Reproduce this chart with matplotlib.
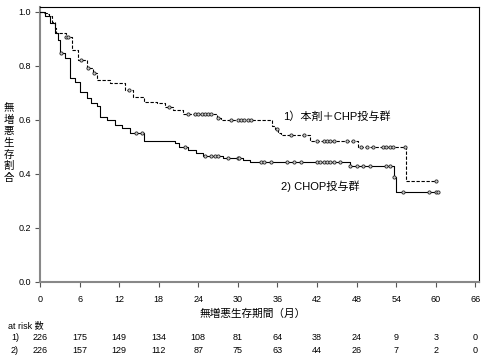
import numpy as np
import matplotlib
matplotlib.use("Agg")
import matplotlib.pyplot as plt

plt.rcParams['font.family'] = ['Liberation Sans', 'Noto Sans CJK JP', 'DejaVu Sans']

# group 1: 本剤+CHP (dashed), step times / survival after each step
t1 = [0, 0.5, 1.0, 1.4, 1.8, 2.2, 2.5, 4.0, 4.8, 5.8, 7.1, 8.1, 8.6, 10.6, 12.9, 14.1,
      15.7, 17.7, 18.9, 20.2, 21.7, 26.8, 27.5, 35.1, 35.6, 36.1, 36.6, 40.9, 48.2, 55.5]
s1 = [1.0, 0.996, 0.991, 0.982, 0.96, 0.94, 0.92, 0.907, 0.858, 0.821, 0.79, 0.772, 0.747,
      0.735, 0.71, 0.685, 0.667, 0.661, 0.648, 0.636, 0.62, 0.605, 0.597, 0.577, 0.565,
      0.552, 0.543, 0.52, 0.50, 0.373]
end1 = 60.0
cens1 = [4.0, 4.3, 6.2, 7.3, 8.2, 13.5, 19.5, 22.5, 23.5, 24.0, 24.5, 25.0, 25.5, 26.0,
         27.0, 29.0, 30.0, 30.5, 31.0, 31.5, 32.0, 36.0, 38.0, 40.0, 42.0, 43.0, 43.5,
         44.0, 44.5, 46.5, 47.5, 48.6, 49.5, 50.5, 52.0, 52.5, 53.0, 53.5, 55.3, 60.0]

# group 2: CHOP (solid)
t2 = [0, 0.75, 1.5, 2.3, 2.8, 3.0, 3.8, 4.5, 5.3, 6.1, 7.1, 7.8, 8.6, 9.1, 10.1, 11.4,
      12.4, 13.6, 15.7, 20.5, 21.0, 22.5, 23.7, 24.7, 27.8, 30.8, 31.8, 47.0, 53.7, 54.0]
s2 = [1.0, 0.985, 0.957, 0.92, 0.895, 0.846, 0.827, 0.753, 0.741, 0.704, 0.679, 0.661,
      0.651, 0.611, 0.60, 0.58, 0.568, 0.55, 0.522, 0.512, 0.50, 0.488, 0.475, 0.467,
      0.457, 0.45, 0.444, 0.43, 0.387, 0.333]
end2 = 60.3
cens2 = [3.2, 14.5, 15.5, 22.0, 25.0, 26.0, 26.5, 27.0, 28.5, 30.0, 30.2, 33.5, 34.0,
         35.0, 37.5, 38.5, 39.5, 42.0, 42.5, 43.0, 43.5, 44.0, 44.5, 45.5, 47.0, 48.0,
         49.0, 50.0, 52.5, 53.0, 53.7, 55.0, 59.0, 60.0, 60.3]

months = [0, 6, 12, 18, 24, 30, 36, 42, 48, 54, 60, 66]
risk1 = [226, 175, 149, 134, 108, 81, 64, 38, 24, 9, 3, 0]
risk2 = [226, 157, 129, 112, 87, 75, 63, 44, 26, 7, 2, 0]

label1 = "1）本剤＋CHP投与群"
label2 = "2) CHOP投与群"
ylabel = "無増悪生存割合"
xlabel = "無増悪生存期間（月）"


def step_value(t, s, x):
    idx = np.searchsorted(t, x, side='right') - 1
    return np.array(s)[idx]


fig = plt.figure(figsize=(4.86, 3.6), dpi=100)
ax = fig.add_axes([40 / 486, 1 - 281.7 / 360, 439.3 / 486, 274.7 / 360])

for t, s, end, cens, ls in [(t1, s1, end1, cens1, (0, (3, 1.5))), (t2, s2, end2, cens2, '-')]:
    tx = list(t) + [end]
    sx = list(s) + [s[-1]]
    ax.step(tx, sx, where='post', color='black', lw=0.8, linestyle=ls, zorder=3)
    cy = step_value(t, s, cens)
    ax.plot(cens, cy, 'o', ms=2.3, mfc='#cccccc', mec='#222222', mew=0.6, zorder=4)

ax.set_xlim(0, 66.6)
ax.set_ylim(0, 1.017)
ax.set_xticks(months)
ax.set_yticks(np.arange(0, 1.01, 0.2))
ax.set_yticklabels([f"{v:.1f}" for v in np.arange(0, 1.01, 0.2)])
ax.tick_params(labelsize=6.5, length=3.5, width=0.8, color='#555555', direction='out')
ax.tick_params(axis='x', pad=6)
ax.tick_params(axis='y', pad=3)

for side in ['left', 'bottom']:
    ax.spines[side].set_color('#888888')
    ax.spines[side].set_linewidth(1.5)
for side in ['top', 'right']:
    ax.spines[side].set_color('black')
    ax.spines[side].set_linewidth(0.8)

ax.text(36.8, 0.611, label1, fontsize=8, ha='left', va='center')
ax.text(36.6, 0.352, label2, fontsize=8, ha='left', va='center')

fig.text(253 / 486, 1 - 314 / 360, xlabel, fontsize=7.7, ha='center', va='center')
# vertical stacked y label, one character per line
for i, ch in enumerate(ylabel):
    fig.text(9 / 486, 1 - (108 + 11.7 * i) / 360, ch, fontsize=7.5,
             family='Noto Sans CJK JP', ha='center', va='center')

# at risk table
fig.text(8 / 486, 1 - 325.7 / 360, "at risk 数", fontsize=6.5, ha='left', va='center')
for row, risk, ypx in [("1)", risk1, 337.7), ("2)", risk2, 350.3)]:
    fig.text(15 / 486, 1 - ypx / 360, row, fontsize=6.5, ha='center', va='center')
    for m, n in zip(months, risk):
        xd = fig.transFigure.inverted().transform(ax.transData.transform((m, 0)))[0]
        fig.text(xd, 1 - ypx / 360, str(n), fontsize=6.5, ha='center', va='center')

fig.savefig("out.png", dpi=100)
